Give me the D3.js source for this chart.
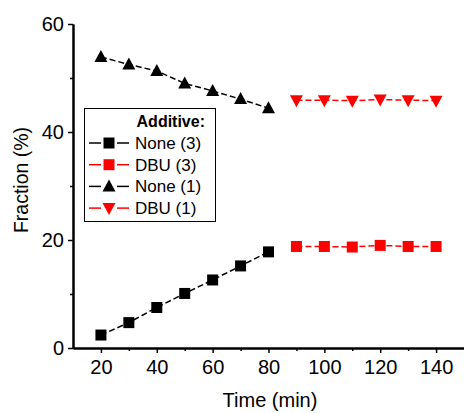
<!DOCTYPE html>
<html><head><meta charset="utf-8">
<script src="https://cdn.jsdelivr.net/npm/d3@7"></script>
<style>body{margin:0;background:#fff}svg{display:block;font-family:"Liberation Sans",Arial,sans-serif}</style>
</head><body><svg id="c" width="464" height="413"></svg>
<script>
const timeA = [20,30,40,50,60,70,80];
const timeB = [90,100,110,120,130,140];
const none3 = [2.4,4.7,7.5,10.1,12.6,15.2,17.8];
const dbu3 = [18.8,18.8,18.7,19.0,18.8,18.8];
const none1 = [53.9,52.5,51.3,49.0,47.6,46.1,44.4];
const dbu1 = [45.9,45.9,45.8,46.0,45.9,45.8];
const xTicks = [20,40,60,80,100,120,140];
const yTicks = [0,20,40,60];
const series = [
  {name:"None (3)", x:timeA, y:none3, color:"#000", sym:"square"},
  {name:"DBU (3)", x:timeB, y:dbu3, color:"#ff0000", sym:"square"},
  {name:"None (1)", x:timeA, y:none1, color:"#000", sym:"up"},
  {name:"DBU (1)", x:timeB, y:dbu1, color:"#ff0000", sym:"down"}
];
const svg = d3.select("#c");
const x = d3.scaleLinear().domain([10,150]).range([73,464]);
const y = d3.scaleLinear().domain([0,60]).range([348,24]);

function marker(g, sym, color, cx, cy){
  if(sym==="square"){
    g.append("rect").attr("x",cx-5.5).attr("y",cy-5.5).attr("width",11).attr("height",11).attr("fill",color);
  } else if(sym==="up"){
    g.append("path").attr("d",`M${cx},${cy-7}L${cx+6.5},${cy+5}L${cx-6.5},${cy+5}Z`).attr("fill",color);
  } else {
    g.append("path").attr("d",`M${cx},${cy+7}L${cx+6.5},${cy-5}L${cx-6.5},${cy-5}Z`).attr("fill",color);
  }
}

// axes
const xAxis = svg.append("g").attr("transform","translate(0,348)")
  .call(d3.axisBottom(x).tickValues(xTicks).tickSize(5).tickSizeOuter(0).tickPadding(7));
const xMinor = svg.append("g").attr("transform","translate(0,348)")
  .call(d3.axisBottom(x).tickValues([30,50,70,90,110,130]).tickSize(3).tickSizeOuter(0).tickFormat(""));
const yAxis = svg.append("g").attr("transform","translate(73,0)")
  .call(d3.axisLeft(y).tickValues(yTicks).tickSize(5).tickSizeOuter(0).tickPadding(4));
const yMinor = svg.append("g").attr("transform","translate(73,0)")
  .call(d3.axisLeft(y).tickValues([10,30,50]).tickSize(3).tickSizeOuter(0).tickFormat(""));
[xAxis,xMinor,yAxis,yMinor].forEach(a=>{
  a.select(".domain").attr("stroke","#000").attr("stroke-width",2);
  a.selectAll(".tick line").attr("stroke","#000").attr("stroke-width",1.5);
  a.selectAll("text").attr("font-size",20).attr("fill","#000").attr("font-family","'Liberation Sans',Arial,sans-serif");
});

// series
const line = d3.line();
series.forEach(s=>{
  const pts = s.x.map((v,i)=>[x(v),y(s.y[i])]);
  svg.append("path").attr("d",line(pts)).attr("fill","none").attr("stroke",s.color)
    .attr("stroke-width",1.5).attr("stroke-dasharray","6,3");
  const g = svg.append("g");
  pts.forEach(p=>marker(g,s.sym,s.color,p[0],p[1]));
});

// axis titles
svg.append("text").attr("x",270).attr("y",407).attr("text-anchor","middle").attr("font-size",20).text("Time (min)");
svg.append("text").attr("transform","translate(28,180) rotate(-90)").attr("text-anchor","middle").attr("font-size",19.5).text("Fraction (%)");

// legend
const lg = svg.append("g");
lg.append("rect").attr("x",84.5).attr("y",108.5).attr("width",131).attr("height",113).attr("fill","#fff").attr("stroke","#000").attr("stroke-width",1);
lg.append("text").attr("x",205).attr("y",127).attr("text-anchor","end").attr("font-size",16).attr("font-weight","bold").text("Additive:");
series.forEach((s,i)=>{
  const cy = 143 + i*21.7;
  lg.append("line").attr("x1",89).attr("x2",101).attr("y1",cy).attr("y2",cy).attr("stroke",s.color).attr("stroke-width",1.5);
  lg.append("line").attr("x1",117).attr("x2",129).attr("y1",cy).attr("y2",cy).attr("stroke",s.color).attr("stroke-width",1.5);
  marker(lg,s.sym,s.color,109,cy);
  lg.append("text").attr("x",135).attr("y",cy+6).attr("font-size",17).text(s.name);
});
</script></body></html>
